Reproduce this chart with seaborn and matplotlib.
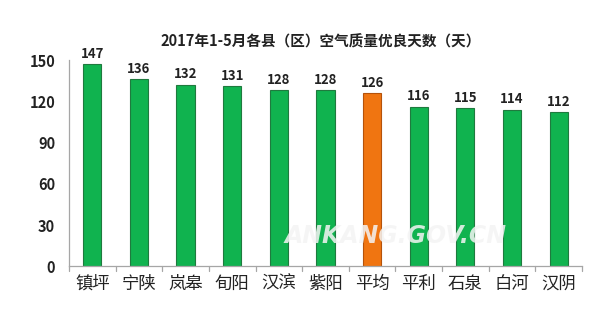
import matplotlib
matplotlib.use("Agg")
import matplotlib.pyplot as plt
import seaborn as sns
import pandas as pd

counties = ["镇坪", "宁陕", "岚皋", "旬阳", "汉滨", "紫阳", "平均", "平利", "石泉", "白河", "汉阴"]
good_days = [147, 136, 132, 131, 128, 128, 126, 116, 115, 114, 112]
y_ticks = [0, 30, 60, 90, 120, 150]
title = "2017年1-5月各县（区）空气质量优良天数（天）"

sns.set_theme(style="white")
plt.rcParams["font.family"] = ["Noto Sans CJK SC", "DejaVu Sans"]

df = pd.DataFrame({"county": counties, "days": good_days})
df["kind"] = ["avg" if c == "平均" else "county" for c in counties]

fig = plt.figure(figsize=(5.99, 3.24), dpi=100)
ax = fig.add_axes([0.1152, 0.1775, 0.8564, 0.6373])

sns.barplot(data=df, x="county", y="days", hue="kind",
            palette={"county": "#10B34F", "avg": "#F07511"},
            saturation=1, width=0.39, dodge=False, legend=False, ax=ax,
            edgecolor="#1F7A3E", linewidth=0.8)
# darker outline for the average bar
avg_idx = counties.index("平均")
for patch in ax.patches:
    cx = patch.get_x() + patch.get_width() / 2
    if abs(cx - avg_idx) < 0.3:
        patch.set_edgecolor("#B5520A")

ax.set_xlim(-0.5, len(counties) - 0.5)
ax.set_ylim(0, 150)
ax.set_yticks(y_ticks)
ax.set_yticklabels([str(v) for v in y_ticks], fontsize=10.5, fontweight="bold", color="#222222")
ax.set_xlabel("")
ax.set_ylabel("")
ax.set_xticks(range(len(counties)))
ax.set_xticklabels(counties, fontsize=12.5, color="#222222")

for spine in ["top", "right"]:
    ax.spines[spine].set_visible(False)
for spine in ["left", "bottom"]:
    ax.spines[spine].set_color("#A6A6A6")
    ax.spines[spine].set_linewidth(0.9)

ax.tick_params(axis="y", length=4, color="#A6A6A6", direction="out", pad=6)
ax.tick_params(axis="x", length=0, pad=6)
# category boundary ticks on the x axis
for b in range(len(counties) + 1):
    ax.plot([b - 0.5, b - 0.5], [0, -3.5], color="#A6A6A6", lw=0.9, clip_on=False)

for i, v in enumerate(good_days):
    ax.text(i, v + 2.5, str(v), ha="center", va="bottom", fontsize=9.5,
            fontweight="bold", color="#222222")

fig.text(0.535, 0.873, title, ha="center", va="center", fontsize=10.5,
         fontweight="bold", color="#222222")

ax.text(6.5, 22, "ANKANG.GOV.CN", ha="center", va="center", fontsize=17,
        fontweight="bold", style="italic", color="#F4F4F4", alpha=0.85,
        family="DejaVu Sans")

fig.savefig("out.png", dpi=100, facecolor="white")
